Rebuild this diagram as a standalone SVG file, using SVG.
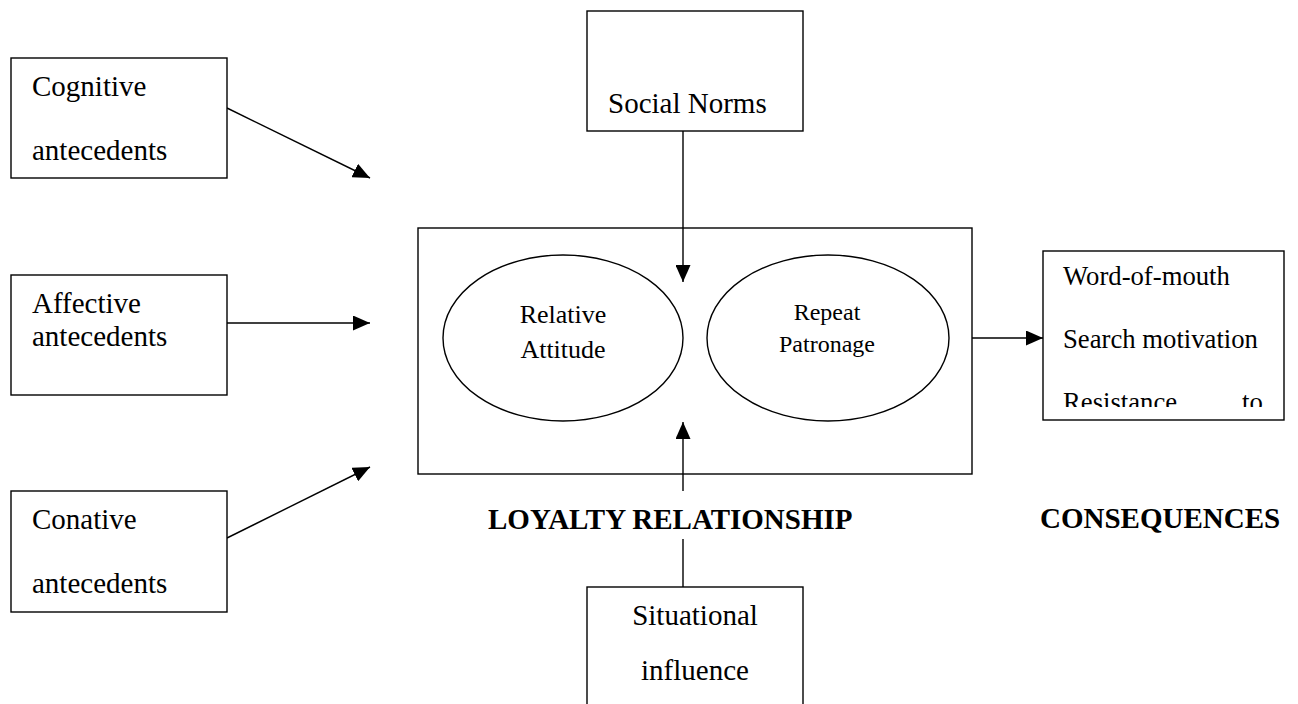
<svg xmlns="http://www.w3.org/2000/svg" width="1298" height="704" viewBox="0 0 1298 704">
<style>
.box{fill:#fff;stroke:#000;stroke-width:1.4}
.ell{fill:#fff;stroke:#000;stroke-width:1.4}
.t{font-family:"Liberation Serif","Times New Roman",serif;font-size:29px;fill:#000}
.tc{font-family:"Liberation Serif","Times New Roman",serif;font-size:26.7px;fill:#000}
.te{font-family:"Liberation Serif","Times New Roman",serif;font-size:26px;fill:#000;text-anchor:middle}
.tr{font-family:"Liberation Serif","Times New Roman",serif;font-size:24px;fill:#000;text-anchor:middle}
.b{font-family:"Liberation Serif","Times New Roman",serif;font-size:29px;font-weight:bold;fill:#000}
.c{fill:none;stroke:#000;stroke-width:1.4}
</style>
<defs>
<marker id="ah" markerUnits="userSpaceOnUse" markerWidth="17" markerHeight="15" refX="17" refY="7.5" orient="auto">
<path d="M0,0 L17,7.5 L0,15 z" fill="#000"/>
</marker>
<clipPath id="cclip"><rect x="1044" y="252" width="239" height="155"/></clipPath>
</defs>
<rect width="1298" height="704" fill="#fff"/>
<g id="connectors">
<line class="c" x1="227" y1="108" x2="370" y2="178" marker-end="url(#ah)"/>
<line class="c" x1="227" y1="323" x2="370" y2="323" marker-end="url(#ah)"/>
<line class="c" x1="227" y1="538" x2="370" y2="467" marker-end="url(#ah)"/>
<line class="c" x1="683" y1="131" x2="683" y2="282" marker-end="url(#ah)"/>
<line class="c" x1="683" y1="491" x2="683" y2="422" marker-end="url(#ah)"/>
<line class="c" x1="683" y1="539" x2="683" y2="587"/>
<line class="c" x1="972" y1="338" x2="1043" y2="338" marker-end="url(#ah)"/>
</g>
<g id="cognitive">
<rect class="box" x="11" y="58" width="216" height="120"/>
<text class="t" x="32" y="96">Cognitive</text>
<text class="t" x="32" y="160">antecedents</text>
</g>
<g id="affective">
<rect class="box" x="11" y="275" width="216" height="120"/>
<text class="t" x="32" y="313">Affective</text>
<text class="t" x="32" y="346">antecedents</text>
</g>
<g id="conative">
<rect class="box" x="11" y="491" width="216" height="121"/>
<text class="t" x="32" y="529">Conative</text>
<text class="t" x="32" y="593">antecedents</text>
</g>
<g id="social-norms">
<rect class="box" x="587" y="11" width="216" height="120"/>
<text class="t" x="608" y="113">Social Norms</text>
</g>
<g id="loyalty-relationship">
<rect class="box" x="418" y="228" width="554" height="246" fill="none" style="fill:none"/>
<text class="b" x="488" y="529">LOYALTY RELATIONSHIP</text>
</g>
<g id="relative-attitude">
<ellipse class="ell" cx="563" cy="338" rx="120" ry="83"/>
<text class="te" x="563" y="323">Relative</text>
<text class="te" x="563" y="358">Attitude</text>
</g>
<g id="repeat-patronage">
<ellipse class="ell" cx="828" cy="338" rx="121" ry="83"/>
<text class="tr" x="827" y="320">Repeat</text>
<text class="tr" x="827" y="352">Patronage</text>
</g>
<g id="situational">
<rect class="box" x="587" y="587" width="216" height="130"/>
<text class="t" x="695" y="625" text-anchor="middle">Situational</text>
<text class="t" x="695" y="680" text-anchor="middle">influence</text>
</g>
<g id="consequences">
<rect class="box" x="1043" y="251" width="241" height="169"/>
<g clip-path="url(#cclip)">
<text class="tc" x="1063" y="285">Word-of-mouth</text>
<text class="tc" x="1063" y="348">Search motivation</text>
<text class="tc" x="1063" y="411">Resistance</text>
<text class="tc" x="1242" y="411">to</text>
</g>
<text class="b" x="1040" y="528">CONSEQUENCES</text>
</g>
</svg>
